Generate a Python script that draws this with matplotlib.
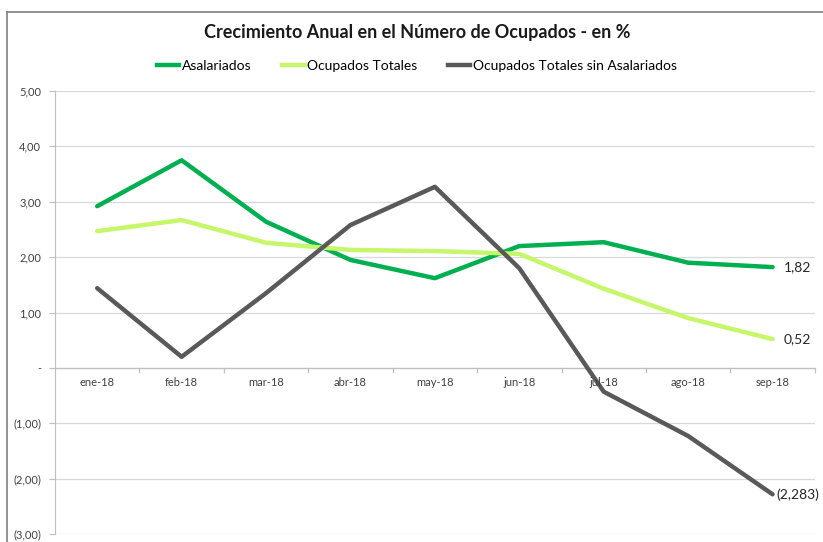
import numpy as np
import matplotlib
matplotlib.use("Agg")
import matplotlib.pyplot as plt
from matplotlib.lines import Line2D

plt.rcParams['font.family'] = ['Lato', 'DejaVu Sans']

# ------------------------------------------------------------
# datos
# ------------------------------------------------------------
meses = ['ene-18', 'feb-18', 'mar-18', 'abr-18', 'may-18',
         'jun-18', 'jul-18', 'ago-18', 'sep-18']
asalariados = [2.92, 3.75, 2.64, 1.95, 1.62, 2.20, 2.27, 1.90, 1.82]
ocupados_totales = [2.47, 2.67, 2.26, 2.13, 2.11, 2.06, 1.43, 0.90, 0.52]
sin_asalariados = [1.44, 0.20, 1.35, 2.58, 3.27, 1.80, -0.43, -1.23, -2.283]
etiquetas_finales = ['1,82', '0,52', '(2,283)']

series = ['Asalariados', 'Ocupados Totales', 'Ocupados Totales sin Asalariados']
colores = ['#00B050', '#C6F66A', '#595959']
yticks = [5, 4, 3, 2, 1, 0, -1, -2, -3]


def fmt_y(v):
    if v == 0:
        return '-'
    s = f"{abs(v):.2f}".replace('.', ',')
    return f"({s})" if v < 0 else s


fig = plt.figure(figsize=(8.23, 5.42), dpi=100)
ax = fig.add_axes([0.0668, 0.0148, 0.9232, 0.8172])

x = np.arange(len(meses))
datos = [asalariados, ocupados_totales, sin_asalariados]
for vals, col in zip(datos, colores):
    ax.plot(x, vals, color=col, lw=3.2, solid_capstyle='round', zorder=3)

offsets = [8, 8, 3]
for vals, lab, off in zip(datos, etiquetas_finales, offsets):
    ax.annotate(lab, (x[-1], vals[-1]), xytext=(off, 0), textcoords='offset points',
                va='center', ha='left', fontsize=10, color='#262626',
                annotation_clip=False)

ax.set_xlim(-0.5, len(meses) - 0.5)
ax.set_ylim(-3, 5)
ax.set_yticks(yticks)
ax.set_yticklabels([fmt_y(v) for v in yticks], fontsize=8, color='#404040')
ax.grid(axis='y', color='#D9D9D9', lw=0.9, zorder=0)
ax.set_axisbelow(True)

for s in ['top', 'right', 'bottom']:
    ax.spines[s].set_visible(False)
ax.spines['left'].set_color('#BFBFBF')
ax.tick_params(axis='y', length=4, color='#BFBFBF', pad=6)

# eje de categorías en cero
ax.axhline(0, color='#BFBFBF', lw=0.9, zorder=1)
ax.set_xticks([])
for b in np.arange(0.5, len(meses) - 0.5, 1.0):
    ax.plot([b, b], [0, -0.08], color='#BFBFBF', lw=0.9, zorder=1, clip_on=False)
ax.plot([len(meses) - 0.5] * 2, [0, -0.08], color='#BFBFBF', lw=0.9, clip_on=False)
for xi, m in zip(x, meses):
    ax.text(xi, -0.27, m, ha='center', va='center', fontsize=8, color='#404040')

fig.text(0.507, 0.94, 'Crecimiento Anual en el Número de Ocupados - en %',
         ha='center', va='center', fontsize=13, fontweight='bold', color='#1a1a1a')

handles = [Line2D([0], [0], color=c, lw=3.2) for c in colores]
fig.legend(handles, series, loc='center', bbox_to_anchor=(0.507, 0.878), ncol=3,
           frameon=False, fontsize=10, handlelength=1.6, handletextpad=0.2,
           columnspacing=2.2)

# marco exterior
fig.add_artist(Line2D([7 / 823, 7 / 823], [0, 1 - 12 / 542], color='#7F7F7F', lw=1.2))
fig.add_artist(Line2D([7 / 823, 1], [1 - 12 / 542, 1 - 12 / 542], color='#7F7F7F', lw=1.2))

fig.savefig('out.png', dpi=100)
